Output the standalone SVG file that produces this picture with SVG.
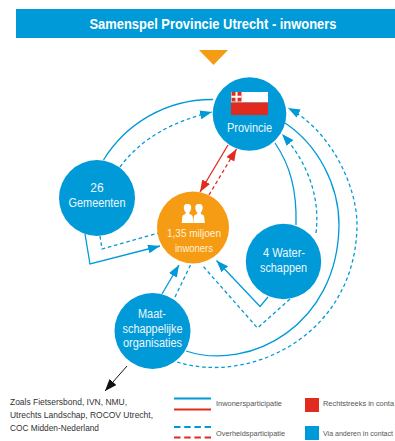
<svg xmlns="http://www.w3.org/2000/svg" width="395" height="441" viewBox="0 0 395 441">
<style>
text{font-family:"Liberation Sans",Arial,sans-serif}
.c{fill:#eef8fc;text-anchor:middle;font-size:12px}
.o{font-size:10.5px;fill:#fff3dd}
.k{fill:#333;font-size:9.5px}
.l{fill:#555;font-size:7.5px}
.b{fill:#009ad8}
.s{fill:none;stroke:#009ad8;stroke-width:1.3}
.d{fill:none;stroke:#009ad8;stroke-width:1.3;stroke-dasharray:3.6 2.8}
.rs{fill:none;stroke:#e22b1f;stroke-width:1.3}
.rd{fill:none;stroke:#e22b1f;stroke-width:1.3;stroke-dasharray:3.6 2.8}
.ls{fill:none;stroke-width:1.8}
.ld{fill:none;stroke-width:1.8;stroke-dasharray:6.5 3.7}
</style>
<defs>
<marker id="ab" markerUnits="userSpaceOnUse" markerWidth="13" markerHeight="10" refX="12" refY="4.5" orient="auto"><path d="M0,0L12,4.5L0,9z" fill="#009ad8"/></marker>
<marker id="ar" markerUnits="userSpaceOnUse" markerWidth="13" markerHeight="10" refX="12" refY="4.5" orient="auto"><path d="M0,0L12,4.5L0,9z" fill="#e22b1f"/></marker>
<marker id="ak" markerUnits="userSpaceOnUse" markerWidth="13" markerHeight="10" refX="12" refY="4.5" orient="auto"><path d="M0,0L12,4.5L0,9z" fill="#111"/></marker>
</defs>
<g id="header">
<rect x="16" y="9" width="379" height="29" class="b"/>
<text x="213" y="28.500" fill="#fff" font-size="14" font-weight="700" text-anchor="middle" textLength="247" lengthAdjust="spacingAndGlyphs">Samenspel Provincie Utrecht - inwoners</text>
<path d="M199,50H228L213.500,65z" fill="#f59b14"/>
</g>
<g id="connectors">
<path class="s" d="M103.500,160C125,125 165,99 213,99.500"/>
<path class="d" marker-end="url(#ab)" d="M120,167C140,140 170,122 212,112"/>
<path class="s" marker-end="url(#ab)" d="M85,234L90,264L160,246"/>
<path class="d" d="M100,236L102,249L158,233"/>
<path class="s" marker-end="url(#ab)" d="M162,294L179,265"/>
<path class="d" d="M175,297L190.500,265"/>
<path class="s" marker-end="url(#ab)" d="M268,297L260,306.500L216.500,260.500"/>
<path class="d" d="M290,299L257.500,328L202,265"/>
<path class="rs" marker-end="url(#ar)" d="M228,145L200,192"/>
<path class="rd" marker-end="url(#ar)" d="M209,195L236.500,149"/>
<path class="s" d="M275,143C290,165 297,190 296,225"/>
<path class="d" marker-end="url(#ab)" d="M316,233C320,200 310,165 282,134"/>
<path class="s" d="M186,351C250,372 338,325 339,225C339,185 318,145 285,123"/>
<path class="d" marker-end="url(#ab)" d="M177,362C250,385 356,335 357,225C357,185 330,130 288,108"/>
<path fill="none" stroke="#111" stroke-width="1" marker-end="url(#ak)" d="M127,366L105,391"/>
</g>
<g id="provincie">
<circle cx="249.500" cy="114" r="36.800" class="b"/>
<rect x="231" y="92" width="37" height="10.500" fill="#fff"/>
<rect x="231" y="102.500" width="37" height="12.500" fill="#e22b1f"/>
<rect x="231.500" y="92" width="10" height="9.500" fill="#e22b1f"/>
<path d="M236.500,92v9.500M231.500,96.800h10" stroke="#fff" stroke-width="2"/>
<text class="c" x="249.500" y="131.500" textLength="45" lengthAdjust="spacingAndGlyphs">Provincie</text>
</g>
<g id="gemeenten">
<circle cx="97" cy="198" r="38" class="b"/>
<text class="c" x="97" y="191.500">26</text>
<text class="c" x="97" y="206.500" textLength="57" lengthAdjust="spacingAndGlyphs">Gemeenten</text>
</g>
<g id="inwoners">
<circle cx="193" cy="227.500" r="36" fill="#f59b14"/>
<g fill="#fff">
<path d="M187.500,203.500c-2.700,0 -4,2.200 -3.700,4.800c.2,2 1.100,3.300 1.900,4.200v1.200l-2.300,1.300c-.7,.5 -1,1 -1.100,2l-.6,6h11.600l-.6,-6c-.1,-1 -.4,-1.500 -1.100,-2l-2.300,-1.300v-1.200c.8,-.9 1.700,-2.200 1.900,-4.200c.3,-2.600 -1,-4.800 -3.700,-4.800z"/>
<path d="M199,203.500c-2.700,0 -4,2.200 -3.700,4.800c.2,2 1.100,3.300 1.900,4.200v1.200l-2.300,1.300c-.7,.5 -1,1 -1.100,2l-.6,6h11.600l-.6,-6c-.1,-1 -.4,-1.500 -1.100,-2l-2.300,-1.300v-1.200c.8,-.9 1.700,-2.200 1.900,-4.200c.3,-2.600 -1,-4.800 -3.700,-4.800z"/>
</g>
<text class="c o" x="194" y="236.500" textLength="54" lengthAdjust="spacingAndGlyphs">1,35 miljoen</text>
<text class="c o" x="194" y="251.500" textLength="38" lengthAdjust="spacingAndGlyphs">inwoners</text>
</g>
<g id="waterschappen">
<circle cx="283.500" cy="261.500" r="37.700" class="b"/>
<text class="c" x="284" y="256.500" textLength="42" lengthAdjust="spacingAndGlyphs">4 Water-</text>
<text class="c" x="283.500" y="271.500" textLength="47" lengthAdjust="spacingAndGlyphs">schappen</text>
</g>
<g id="maatschappelijke">
<circle cx="152.500" cy="331" r="38" class="b"/>
<text class="c" x="152" y="318" textLength="28" lengthAdjust="spacingAndGlyphs">Maat-</text>
<text class="c" x="152.500" y="333" textLength="60" lengthAdjust="spacingAndGlyphs">schappelijke</text>
<text class="c" x="152.500" y="346.500" textLength="59" lengthAdjust="spacingAndGlyphs">organisaties</text>
</g>
<g id="note">
<text class="k" x="10" y="405" textLength="117" lengthAdjust="spacingAndGlyphs">Zoals Fietsersbond, IVN, NMU,</text>
<text class="k" x="10" y="418" textLength="143" lengthAdjust="spacingAndGlyphs">Utrechts Landschap, ROCOV Utrecht,</text>
<text class="k" x="10" y="431" textLength="89" lengthAdjust="spacingAndGlyphs">COC Midden-Nederland</text>
</g>
<g id="legend">
<path class="ls" stroke="#009ad8" d="M174,398.500H211"/>
<path class="ls" stroke="#e22b1f" d="M174,409.500H211"/>
<path class="ld" stroke="#009ad8" d="M174,427H211"/>
<path class="ld" stroke="#e22b1f" d="M174,437.500H211"/>
<text class="l" x="216" y="406" textLength="66" lengthAdjust="spacingAndGlyphs">Inwonersparticipatie</text>
<text class="l" x="216" y="436" textLength="69" lengthAdjust="spacingAndGlyphs">Overheidsparticipatie</text>
<rect x="305" y="398" width="14" height="14" fill="#e22b1f"/>
<rect x="305" y="426" width="14" height="14" class="b"/>
<text class="l" x="323" y="406" textLength="71" lengthAdjust="spacingAndGlyphs">Rechtstreeks in conta</text>
<text class="l" x="323" y="436" style="font-size:7px" textLength="70" lengthAdjust="spacingAndGlyphs">Via anderen in contact</text>
</g>
</svg>
